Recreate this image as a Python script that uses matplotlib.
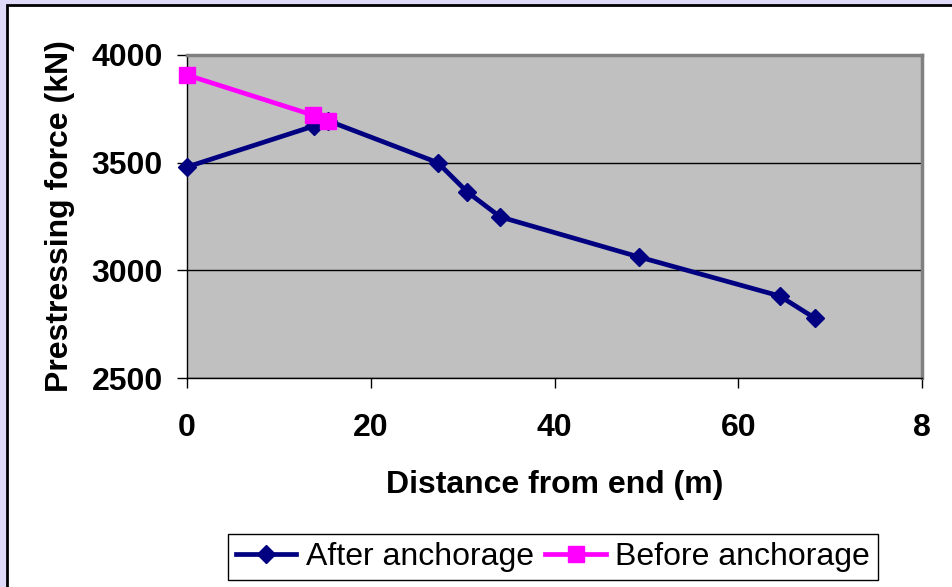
import numpy as np
import matplotlib.pyplot as plt
from matplotlib.patches import Rectangle

plt.rcParams['font.family'] = ['Liberation Sans', 'DejaVu Sans']

# data
after_x = [0, 13.8, 15.4, 27.3, 30.5, 34.1, 49.2, 64.5, 68.3]
after_y = [3480, 3670, 3694, 3500, 3364, 3248, 3062, 2881, 2779]
before_x = [0, 13.7, 15.4]
before_y = [3907, 3721, 3694]
xticks = [0, 20, 40, 60, 80]
xticklabels = ['0', '20', '40', '60', '8']
yticks = [2500, 3000, 3500, 4000]

fig = plt.figure(figsize=(9.52, 5.87), dpi=100)
fig.patch.set_facecolor('#dedaf8')
# white chart area with black frame on left/top
fig.patches.append(Rectangle((7/952, -0.1), 1.2, 1.1 - 5/587,
                             transform=fig.transFigure, facecolor='white',
                             edgecolor='black', linewidth=2, zorder=-5))

ax = fig.add_axes([187/952, 1 - 378/587, 735/952, 323/587])
ax.set_facecolor('#c0c0c0')

ax.plot(after_x, after_y, color='#000080', lw=3.4, marker='D', ms=9.5,
        label='After anchorage', zorder=3, clip_on=False)
ax.plot(before_x, before_y, color='#ff00ff', lw=3.4, marker='s', ms=11,
        label='Before anchorage', zorder=4, clip_on=False)

ax.set_xlim(0, 80)
ax.set_ylim(2500, 4000)
ax.set_xticks(xticks)
ax.set_xticklabels(xticklabels)
ax.set_yticks(yticks)
ax.grid(axis='y', color='black', lw=1)
ax.set_axisbelow(True)

for s in ['left', 'bottom']:
    ax.spines[s].set_color('black')
    ax.spines[s].set_linewidth(1)
for s in ['top', 'right']:
    ax.spines[s].set_color('#808080')
    ax.spines[s].set_linewidth(2.5)

ax.tick_params(direction='out', length=7, width=1, labelsize=23)
ax.tick_params(axis='x', pad=18)
ax.tick_params(axis='y', pad=10.5)
for lab in ax.get_xticklabels() + ax.get_yticklabels():
    lab.set_fontweight('bold')

ax.set_xlabel('Distance from end (m)', fontsize=23, fontweight='bold', labelpad=20)
ax.set_ylabel('Prestressing force (kN)', fontsize=23, fontweight='bold', labelpad=12)

leg = fig.legend(loc='center', bbox_to_anchor=(553/952, 1 - 557/587), ncol=2,
                 fontsize=23, frameon=True, fancybox=False, edgecolor='black',
                 framealpha=1, handlelength=1.9, handletextpad=0.3,
                 columnspacing=0.35, borderpad=0.25)
leg.get_frame().set_linewidth(1)

fig.savefig('out.png', dpi=100, facecolor=fig.get_facecolor())
